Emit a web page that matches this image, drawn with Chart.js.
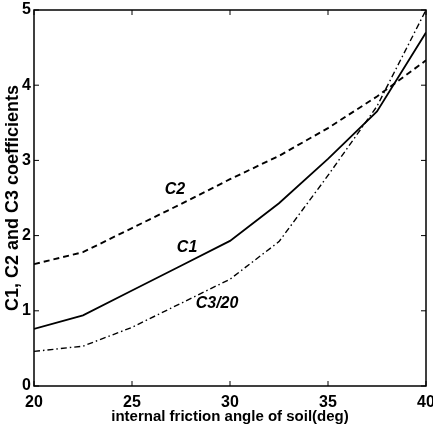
<!DOCTYPE html>
<html>
<head>
<meta charset="utf-8">
<script src="https://cdn.jsdelivr.net/npm/chart.js@4/dist/chart.umd.min.js"></script>
<style>
  html, body { margin: 0; padding: 0; background: #ffffff; }
  #wrap { width: 433px; height: 436px; position: relative; }
</style>
</head>
<body>
<div id="wrap"><canvas id="c" width="433" height="436"></canvas></div>
<script>
// ---- data ----
const angles = [20, 22.5, 25, 27.5, 30, 32.5, 35, 37.5, 40];
const c1 = [0.76, 0.94, 1.27, 1.60, 1.93, 2.43, 3.02, 3.65, 4.70];
const c2 = [1.62, 1.78, 2.10, 2.42, 2.75, 3.06, 3.43, 3.85, 4.33];
const c3over20 = [0.46, 0.53, 0.78, 1.10, 1.42, 1.92, 2.80, 3.72, 5.00];
const xTicks = [20, 25, 30, 35, 40];
const yTicks = [0, 1, 2, 3, 4, 5];
const curveLabels = [
  { text: 'C2', x: 27.19, y: 2.61 },
  { text: 'C1', x: 27.81, y: 1.835 },
  { text: 'C3/20', x: 29.34, y: 1.10 }
];
const xTitle = 'internal friction angle of soil(deg)';
const yTitle = 'C1, C2 and C3 coefficients';

const toPts = (ys) => angles.map((a, i) => ({ x: a, y: ys[i] }));

const boxPlugin = {
  id: 'boxTicks',
  afterDatasetsDraw(chart) {
    const { ctx, chartArea: a, scales: { x, y } } = chart;
    ctx.save();
    ctx.strokeStyle = '#000';
    ctx.lineWidth = 1.5;
    ctx.strokeRect(a.left, a.top, a.right - a.left, a.bottom - a.top);
    const tl = 5;
    ctx.lineWidth = 1;
    ctx.beginPath();
    xTicks.forEach(v => {
      const px = x.getPixelForValue(v);
      ctx.moveTo(px, a.bottom); ctx.lineTo(px, a.bottom - tl);
      ctx.moveTo(px, a.top); ctx.lineTo(px, a.top + tl);
    });
    yTicks.forEach(v => {
      const py = y.getPixelForValue(v);
      ctx.moveTo(a.left, py); ctx.lineTo(a.left + tl, py);
      ctx.moveTo(a.right, py); ctx.lineTo(a.right - tl, py);
    });
    ctx.stroke();
    ctx.fillStyle = '#000';
    ctx.font = 'italic bold 16px "Liberation Sans", Arial, sans-serif';
    ctx.textAlign = 'center';
    ctx.textBaseline = 'middle';
    curveLabels.forEach(l => {
      ctx.fillText(l.text, x.getPixelForValue(l.x), y.getPixelForValue(l.y));
    });
    ctx.restore();
  }
};

new Chart(document.getElementById('c'), {
  type: 'line',
  data: {
    datasets: [
      { label: 'C1', data: toPts(c1), borderColor: '#000', borderWidth: 1.8, pointRadius: 0, tension: 0, fill: false },
      { label: 'C2', data: toPts(c2), borderColor: '#000', borderWidth: 1.9, borderDash: [6, 4], pointRadius: 0, tension: 0, fill: false },
      { label: 'C3/20', data: toPts(c3over20), borderColor: '#000', borderWidth: 1.4, borderDash: [6, 3, 1.5, 3], pointRadius: 0, tension: 0, fill: false }
    ]
  },
  options: {
    responsive: false,
    animation: false,
    devicePixelRatio: 1,
    layout: { padding: { top: 10, right: 7, left: 0, bottom: 0 } },
    plugins: { legend: { display: false }, tooltip: { enabled: false } },
    scales: {
      x: {
        type: 'linear', min: 20, max: 40,
        afterBuildTicks: (s) => { s.ticks = xTicks.map(v => ({ value: v })); },
        afterFit: (s) => { s.height = 50; s.paddingLeft = 0; s.paddingRight = 0; },
        grid: { display: false, drawTicks: false },
        border: { display: false },
        ticks: { color: '#000', padding: 7, maxRotation: 0, font: { family: '"Liberation Sans", Arial, sans-serif', size: 16, weight: 'bold' } },
        title: { display: true, text: xTitle, color: '#000', padding: { top: 0, bottom: 10 }, font: { family: '"Liberation Sans", Arial, sans-serif', size: 15, weight: 'bold' } }
      },
      y: {
        type: 'linear', min: 0, max: 5,
        afterBuildTicks: (s) => { s.ticks = yTicks.map(v => ({ value: v })); },
        afterFit: (s) => { s.width = 34; s.paddingTop = 0; s.paddingBottom = 0; },
        grid: { display: false, drawTicks: false },
        border: { display: false },
        ticks: { color: '#000', padding: 3, font: { family: '"Liberation Sans", Arial, sans-serif', size: 16, weight: 'bold' } },
        title: { display: true, text: yTitle, color: '#000', padding: { top: 2, bottom: 0 }, font: { family: '"Liberation Sans", Arial, sans-serif', size: 18, weight: 'bold' } }
      }
    }
  },
  plugins: [boxPlugin]
});
</script>
</body>
</html>
